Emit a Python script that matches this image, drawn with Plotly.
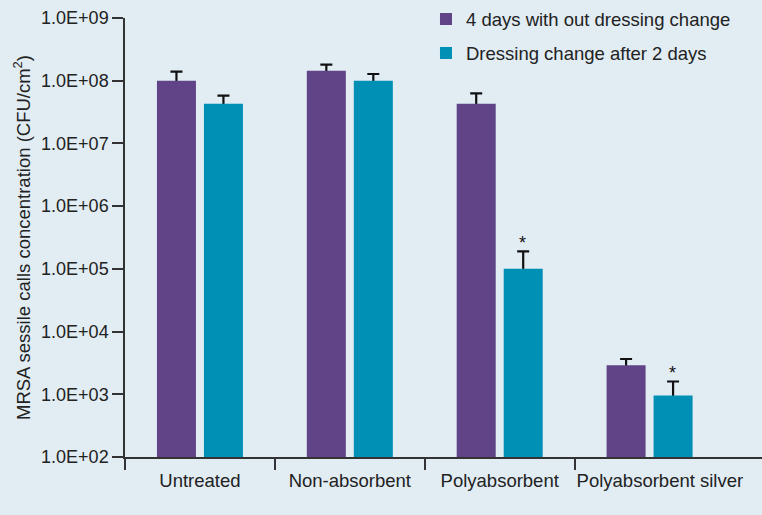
import plotly.graph_objects as go
import math

categories = ["Untreated", "Non-absorbent", "Polyabsorbent", "\u00a0\u00a0\u00a0\u00a0Polyabsorbent silver"]
series_names = ["4 days with out dressing change", "Dressing change after 2 days"]
no_change = [1.0e8, 1.44e8, 4.3e7, 2.9e3]
no_change_upper = [1.4e8, 1.8e8, 6.3e7, 3.65e3]
changed = [4.3e7, 1.0e8, 1.0e5, 9.6e2]
changed_upper = [5.8e7, 1.28e8, 1.9e5, 1.6e3]
significant = [False, False, True, True]
y_tick_vals = [1e2, 1e3, 1e4, 1e5, 1e6, 1e7, 1e8, 1e9]
y_tick_text = ["1.0E+02", "1.0E+03", "1.0E+04", "1.0E+05", "1.0E+06", "1.0E+07", "1.0E+08", "1.0E+09"]

PURPLE = "#614387"
TEAL = "#008fb5"
BG = "#e1ecf3"
FONT = "Liberation Sans, Arial, sans-serif"
TXT = "#222222"

xs = list(range(len(categories)))

fig = go.Figure()

# error-bar carrier traces (drawn beneath the real bars so stems are hidden)
for vals, upper, grp in [(no_change, no_change_upper, "a"), (changed, changed_upper, "b")]:
    fig.add_trace(go.Bar(
        x=xs, y=vals, offsetgroup=grp, showlegend=False, hoverinfo="skip",
        marker=dict(color="rgba(0,0,0,0)", line=dict(width=0)),
        error_y=dict(type="data", symmetric=False,
                     array=[u - v for u, v in zip(upper, vals)],
                     arrayminus=[v * 0.999999 for v in vals],
                     color="#111111", thickness=2.2, width=6),
    ))

fig.add_trace(go.Bar(x=xs, y=no_change, name=series_names[0], offsetgroup="a",
                     legendgroup="a", marker=dict(color=PURPLE, line=dict(width=0))))
fig.add_trace(go.Bar(x=xs, y=changed, name=series_names[1], offsetgroup="b",
                     legendgroup="b", marker=dict(color=TEAL, line=dict(width=0))))

for i, (sig, up) in enumerate(zip(significant, changed_upper)):
    if sig:
        fig.add_annotation(x=xs[i], y=math.log10(up), xref="x", yref="y",
                           text="*", showarrow=False, xshift=23, yshift=-4,
                           yanchor="bottom", font=dict(size=18, color="#111", family=FONT))

fig.update_layout(
    width=762, height=515,
    paper_bgcolor=BG, plot_bgcolor=BG,
    margin=dict(l=125, r=0, t=18, b=58),
    barmode="group", bargap=0.373, bargroupgap=0.17,
    font=dict(family=FONT, size=18.5, color=TXT),
    showlegend=True,
    legend=dict(x=0.4725, y=1.04, xanchor="left", yanchor="top",
                bgcolor="rgba(0,0,0,0)", font=dict(size=18.5, color=TXT),
                tracegroupgap=7, traceorder="grouped"),
    xaxis=dict(
        range=[-0.5, 3.75], tickvals=xs, ticktext=categories, tickangle=0,
        automargin=False, ticklabelstandoff=6,
        ticks="", showgrid=False, zeroline=False,
        showline=True, linecolor="#333", linewidth=1.5,
        tickfont=dict(size=18.5, color=TXT),
        minor=dict(tickvals=[-0.5, 0.5, 1.5, 2.5], ticks="outside",
                   ticklen=11, tickcolor="#333", tickwidth=1.5, showgrid=False),
    ),
    yaxis=dict(
        type="log", range=[2, 9], tickvals=y_tick_vals, ticktext=y_tick_text,
        automargin=False,
        ticks="outside", ticklen=11, tickcolor="#333", tickwidth=1.5,
        showgrid=False, zeroline=False, showline=True, linecolor="#333", linewidth=1.5,
        tickfont=dict(size=18, color=TXT),
        title=dict(text="MRSA sessile calls concentration (CFU/cm<sup>2</sup>)",
                   font=dict(size=18.5, color=TXT), standoff=6),
    ),
)

fig.write_html("out.html", config={"displayModeBar": False},
               post_script="document.body.style.margin='0';document.body.style.padding='0';")
